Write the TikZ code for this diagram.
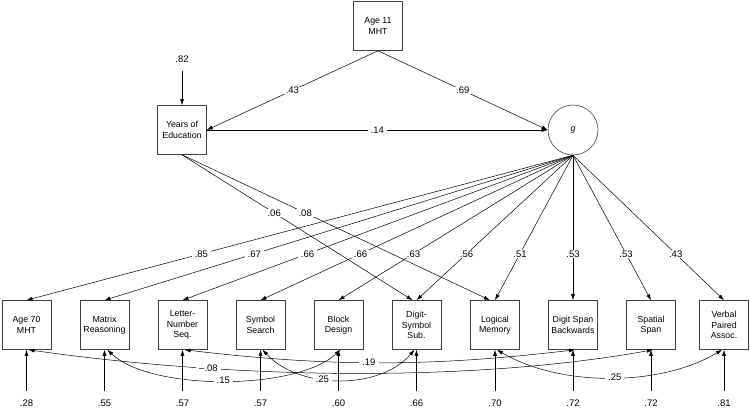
\documentclass[tikz,border=0pt]{standalone}
\usepackage{fontspec}
\setmainfont{Liberation Sans}
\usetikzlibrary{positioning,arrows.meta}

\tikzset{
  var/.style={draw=black!75, line width=0.6pt, minimum width=49pt, minimum height=49pt,
    inner sep=1pt, align=center, font=\fontsize{8.8}{10.5}\selectfont},
  lat/.style={draw=black!75, circle, line width=0.6pt, minimum size=50pt, inner sep=0pt,
    font=\fontsize{8.8}{10.5}\selectfont\itshape},
  arr/.style={-{Latex[length=6pt,width=4pt]}, line width=0.5pt},
  dbl/.style={{Latex[length=6pt,width=4pt]}-{Latex[length=6pt,width=4pt]}, line width=0.5pt},
  coef/.style={fill=white, inner xsep=3pt, inner ysep=0.5pt, font=\fontsize{9.5}{11}\selectfont},
  err/.style={inner sep=0pt, outer ysep=8.5pt, font=\fontsize{9.5}{11}\selectfont},
}

\begin{document}
\begin{tikzpicture}[x=1pt,y=-1pt]
\useasboundingbox (0,0) rectangle (750,409);
% structural part
\node[var] (mht11) at (378,26) {Age 11\\MHT};
\node[var] (edu) at (182,130) {Years of\\Education};
\node[lat] (g) at (573,130) {g};
\node[err] (e0) at (182,59) {.82};
\draw[arr] (e0) -- (edu);
\draw[arr] (mht11.south) -- node[coef]{.43} (edu.east);
\draw[arr] (mht11.south) -- node[coef]{.69} (g.west);
\draw[arr] (edu) -- node[coef]{.14} (g);

% the ten tests
\foreach \x/\name/\txt/\load/\res [count=\i] in {
    26.5/mht70/{Age 70\\MHT}/.85/.28,
    104.5/matrix/{Matrix\\Reasoning}/.67/.55,
    182.5/lns/{Letter-\\Number\\Seq.}/.66/.57,
    260.5/symsrch/{Symbol\\Search}/.66/.57,
    338.5/block/{Block\\Design}/.63/.60,
    416.5/dss/{Digit-\\Symbol\\Sub.}/.56/.66,
    495/logmem/{Logical\\Memory}/.51/.70,
    573/dspan/{Digit Span\\Backwards}/.53/.72,
    651/spatial/{Spatial\\Span}/.53/.72,
    724/vpa/{Verbal\\Paired\\Assoc.}/.43/.81}
{
  \node[var] (\name) at (\x,325) {\txt};
  \node[err] (r\i) at (\x,403) {\res};
  \draw[arr] (r\i) -- (\name);
  \draw[arr] (g.south) -- node[coef,pos=0.68]{\load} (\name.north);
}

\draw[arr] (edu.south) -- node[coef,pos=0.4]{.06} ([xshift=-4pt]dss.north);
\draw[arr] (edu.south) -- node[coef,pos=0.4]{.08} ([xshift=-5pt]logmem.north);

% correlated residuals
\draw[dbl] ([xshift=2pt]mht70.south) .. controls (250,381) and (480,381) .. node[coef,pos=0.27]{--.08} ([xshift=2pt]spatial.south);
\draw[dbl] ([xshift=2pt]lns.south) .. controls (330,367) and (430,367) .. node[coef,pos=0.47]{.19} ([xshift=2pt]dspan.south);
\draw[dbl] ([xshift=3pt]matrix.south) .. controls (150,391) and (296,391) .. node[coef,pos=0.5]{.15} ([xshift=2pt]block.south);
\draw[dbl] ([xshift=2pt]symsrch.south) .. controls (300,390) and (380,390) .. node[coef,pos=0.4]{.25} ([xshift=-2pt]dss.south);
\draw[dbl] ([xshift=2pt]logmem.south) .. controls (560,387) and (660,387) .. node[coef,pos=0.52]{.25} ([xshift=-2pt]vpa.south);
\end{tikzpicture}
\end{document}
